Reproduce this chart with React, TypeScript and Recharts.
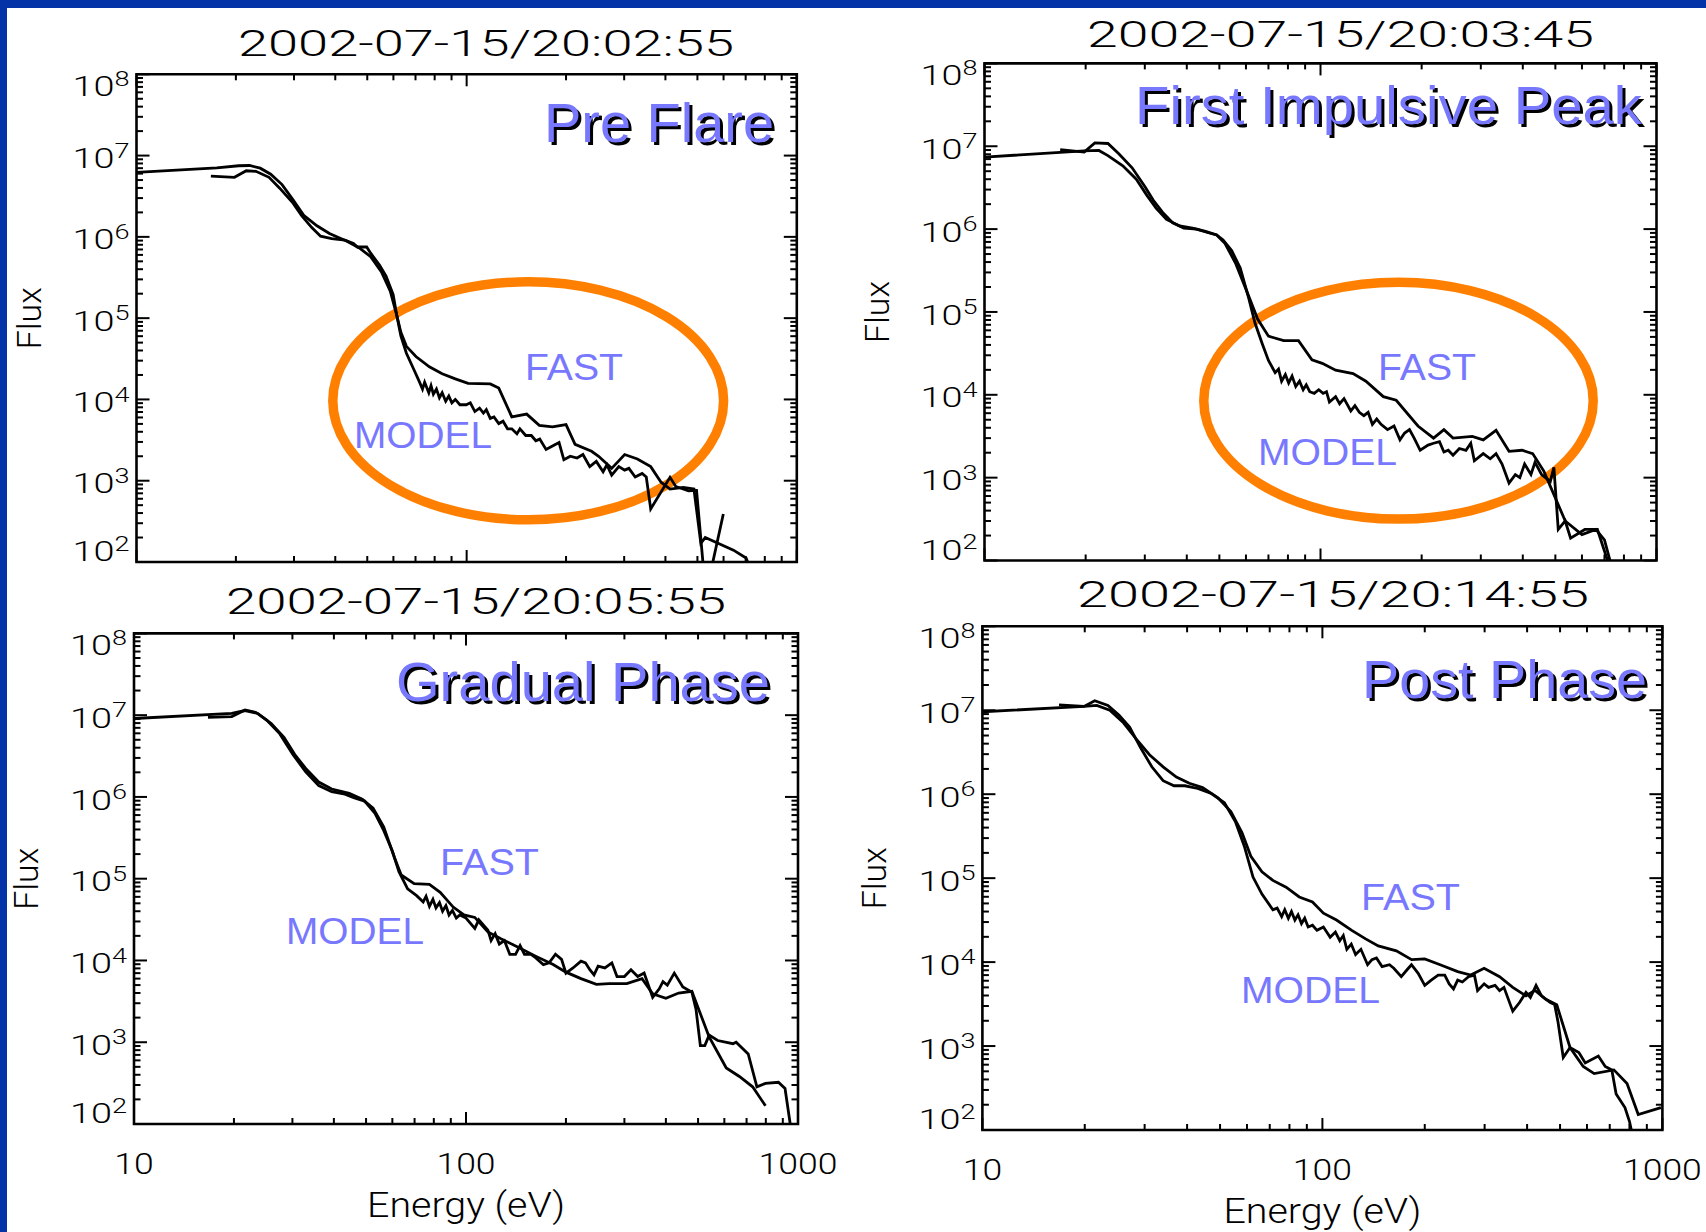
import React from 'react';
import { LineChart, Line, XAxis, YAxis, ReferenceArea } from 'recharts';

type Pt = [number, number];

// ---------------- data ----------------
const ENERGY_DOMAIN: [number, number] = [10, 1000];
const FLUX_DOMAIN: [number, number] = [1e2, 1e8];
const X_MAJOR_TICKS = [10, 100, 1000];
const X_TICK_LABELS = ['10', '100', '1000'];
const MINOR_FACTORS = [2, 3, 4, 5, 6, 7, 8, 9];
const Y_MAJOR_TICKS = [1e2, 1e3, 1e4, 1e5, 1e6, 1e7, 1e8];
const Y_EXPONENT_LABELS = ['2', '3', '4', '5', '6', '7', '8'];
const TITLES = ['2002-07-15/20:02:55', '2002-07-15/20:03:45', '2002-07-15/20:05:55', '2002-07-15/20:14:55'];
const PHASE_LABELS = ['Pre Flare', 'First Impulsive Peak', 'Gradual Phase', 'Post Phase'];
const SERIES_NAMES = ['FAST', 'MODEL'];
const X_TITLE = 'Energy (eV)';
const Y_TITLE = 'Flux';

// Panel 1 (Pre Flare) [energy eV, flux]
const P1_FAST: Pt[] = [
  [10, 6.2e6], [17.5, 7.05e6], [20.4, 7.5e6], [22.0, 7.55e6], [23.7, 7.0e6], [25.5, 5.9e6], [27.6, 4.4e6],
  [29.8, 2.85e6], [32.1, 1.84e6], [35.2, 1.37e6], [38.4, 1.1e6], [43.4, 8.85e5], [47.3, 7.3e5], [51.2, 5.7e5],
  [55.2, 3.7e5], [58.7, 2.15e5], [61.4, 1.09e5], [63.2, 6.7e4], [65.7, 4.5e4], [70.2, 3.37e4], [77.1, 2.52e4],
  [84.3, 2.07e4], [92.4, 1.79e4], [101, 1.58e4], [117.9, 1.55e4], [125.1, 1.38e4], [137, 6.1e3], [152, 6.6e3],
  [166, 4.8e3], [182, 4.6e3], [200, 4.9e3], [213, 2.8e3], [239, 2.3e3], [251, 2.0e3], [275, 1.42e3], [301, 2.1e3],
  [329, 1.85e3], [361, 1.49e3], [388, 960], [413, 790], [453, 830], [488, 790], [512, 170], [528, 200],
  [643, 140], [702, 112], [740, 65],
];
const P1_MODEL: Pt[] = [
  [16.8, 5.6e6], [19.8, 5.4e6], [21.5, 6.5e6], [23.0, 6.4e6], [25.2, 5.4e6], [27.1, 4.0e6], [29.8, 2.6e6],
  [31.6, 1.84e6], [33.9, 1.31e6], [36.1, 1.02e6], [39.0, 9.5e5], [42.8, 9.1e5], [45.4, 8.3e5], [46.7, 7.5e5],
  [49.8, 7.5e5], [51.2, 6.3e5], [54.5, 4.47e5], [57.0, 3.3e5], [59.9, 1.95e5], [61.4, 1.09e5], [63.2, 6.05e4],
  [65.7, 3.7e4], [69.3, 2.3e4], [72.0, 1.63e4], [73.5, 1.34e4], [74.6, 1.63e4], [76.8, 1.21e4], [78.0, 1.48e4],
  [79.3, 1.16e4], [81.0, 1.34e4], [82.7, 1.05e4], [84.3, 1.21e4], [86.4, 9.5e3], [88.3, 1.1e4], [90.2, 9.1e3],
  [92.4, 1.0e4], [95.4, 8.6e3], [99.7, 8.6e3], [102.6, 9.1e3], [105.9, 7.1e3], [109.4, 7.8e3], [112.4, 6.8e3],
  [114.7, 7.5e3], [117.9, 5.85e3], [121.0, 6.1e3], [125.1, 5.05e3], [128.9, 5.4e3], [133.0, 4.35e3],
  [137.0, 4.35e3], [142.0, 3.77e3], [145.0, 4.35e3], [151.0, 3.6e3], [157.0, 3.6e3], [162.0, 3.1e3],
  [166.5, 3.25e3], [174.0, 2.43e3], [182.0, 2.68e3], [190.5, 2.95e3], [197.0, 1.81e3], [206.0, 2.0e3],
  [216.0, 1.9e3], [225.0, 2.1e3], [236.0, 1.49e3], [247.0, 1.73e3], [259.0, 1.29e3], [266.0, 1.57e3],
  [275.0, 1.17e3], [289.0, 1.49e3], [301.0, 1.35e3], [310.0, 1.42e3], [324.0, 1.11e3], [340.0, 1.23e3],
  [350.0, 1.11e3], [361, 450], [413, 1.1e3], [430, 850], [470, 750], [497, 760], [530, 40], [599, 389],
];

// Panel 2 (First Impulsive Peak)
const P2_FAST: Pt[] = [
  [10, 7.4e6], [19.8, 8.8e6], [21.9, 8.9e6], [23.3, 7.7e6], [25.8, 5.8e6], [28.3, 4.0e6], [30.4, 2.57e6],
  [32.4, 1.79e6], [34.8, 1.31e6], [38.1, 1.09e6], [41.6, 1.03e6], [45.5, 9.4e5], [49.1, 8.5e5], [52.0, 6.7e5],
  [56.0, 3.8e5], [60.4, 1.76e5], [65.0, 8.2e4], [70.0, 5.1e4], [77.7, 4.5e4], [86.0, 4.5e4], [94.3, 2.64e4],
  [101.2, 2.4e4], [110.9, 1.98e4], [125, 1.8e4], [136.5, 1.46e4], [153.8, 9.5e3], [168, 8.6e3], [195, 4.2e3],
  [217, 3.0e3], [233, 3.8e3], [248, 3.0e3], [283, 3.14e3], [305, 2.86e3], [333, 3.73e3], [364, 2.08e3],
  [398, 2.14e3], [428, 1.95e3], [462, 1.2e3], [535, 300], [600, 205], [660, 237], [700, 177], [735, 85],
];
const P2_MODEL: Pt[] = [
  [16.8, 9.1e6], [19.8, 8.5e6], [21.3, 1.1e7], [23.3, 1.08e7], [25.1, 8.1e6], [27.5, 5.5e6], [30.0, 3.27e6],
  [31.8, 2.23e6], [33.9, 1.59e6], [36.3, 1.19e6], [39.2, 1.03e6], [42.8, 1.0e6], [46.1, 9.1e5], [49.1, 8.5e5],
  [51.3, 7.4e5], [54.4, 5.5e5], [57.7, 3.4e5], [61.2, 1.45e5], [63.8, 7.4e4], [67.0, 4.2e4], [70.0, 2.6e4],
  [73.3, 1.85e4], [75.0, 2.04e4], [76.6, 1.46e4], [78.6, 1.76e4], [80.4, 1.39e4], [82.3, 1.68e4], [84.4, 1.26e4],
  [86.6, 1.46e4], [88.8, 1.15e4], [90.7, 1.32e4], [92.9, 1.09e4], [95.8, 1.04e4], [98.8, 1.15e4], [101.8, 1.04e4],
  [104.2, 1.09e4], [106.3, 8.2e3], [110.9, 9.5e3], [114.0, 7.8e3], [117.5, 9.0e3], [123.1, 6.4e3], [126.6, 7.4e3],
  [130.5, 6.15e3], [134.6, 5.6e3], [138.6, 6.15e3], [142.7, 4.4e3], [147.0, 5.1e3], [151.4, 4.4e3], [158.3, 3.8e3],
  [165.5, 4.2e3], [172.4, 2.86e3], [178.0, 3.46e3], [184.0, 3.8e3], [190.0, 3.0e3], [198.0, 2.14e3], [209.0, 2.47e3],
  [217.0, 2.6e3], [226.0, 2.72e3], [233.0, 2.04e3], [240.0, 2.14e3], [248.0, 1.86e3], [259.0, 2.25e3],
  [271.0, 2.14e3], [280.0, 2.6e3], [287.0, 1.6e3], [305.0, 1.95e3], [320.0, 1.69e3], [333.0, 1.95e3],
  [347.0, 1.46e3], [364.0, 860], [380.0, 1.09e3], [392.0, 1.0e3], [405.0, 1.46e3], [423.0, 1.09e3],
  [435.0, 1.53e3], [455.0, 1.09e3], [483.0, 900], [495.0, 1.33e3], [510.0, 237], [535.0, 300], [555.0, 186],
  [612.0, 237], [667.0, 237], [718.0, 95], [740, 62],
];

// Panel 3 (Gradual Phase)
const P3_FAST: Pt[] = [
  [10, 9.1e6], [19.7, 1.05e7], [21.6, 1.14e7], [23.6, 1.05e7], [25.9, 7.9e6], [28.3, 5.35e6], [30.5, 3.3e6],
  [32.9, 2.23e6], [36.0, 1.52e6], [39.4, 1.25e6], [44.5, 1.11e6], [48.7, 9.35e5], [52.5, 7.3e5], [56.5, 4.3e5],
  [60.9, 1.8e5], [63.8, 1.11e5], [69.8, 8.7e4], [77.6, 8.5e4], [83.6, 6.8e4], [91.5, 4.5e4], [98.6, 3.6e4],
  [106.3, 3.36e4], [116.4, 2.23e4], [127.4, 1.84e4], [143.6, 1.45e4], [162, 1.13e4], [183, 8.9e3], [200, 7.2e3],
  [222, 6.0e3], [247, 5.1e3], [270, 5.2e3], [305, 5.2e3], [339, 6.0e3], [365, 3.9e3], [400, 3.45e3],
  [437, 4.0e3], [479, 4.2e3], [540, 1.16e3], [608, 485], [666, 381], [730, 285], [798, 167],
];
const P3_MODEL: Pt[] = [
  [16.7, 9.4e6], [19.7, 9.6e6], [21.6, 1.16e7], [23.3, 1.08e7], [25.1, 8.7e6], [27.5, 5.9e6], [30.1, 3.3e6],
  [32.9, 2.03e6], [36.0, 1.38e6], [39.4, 1.16e6], [43.2, 1.08e6], [45.9, 9.8e5], [49.5, 8.9e5], [53.2, 6.3e5],
  [56.5, 3.9e5], [60.0, 2.18e5], [62.8, 1.22e5], [66.7, 7.5e4], [71.0, 6.2e4], [74.3, 5.2e4], [75.8, 6.1e4],
  [77.6, 4.6e4], [79.5, 5.6e4], [81.2, 4.4e4], [83.2, 5.1e4], [85.0, 4.0e4], [87.0, 4.7e4], [88.9, 3.6e4],
  [91.0, 4.1e4], [93.5, 3.3e4], [95.8, 3.6e4], [100, 3.3e4], [106.3, 2.47e4], [109.3, 3.14e4], [116.4, 2.35e4],
  [119, 1.75e4], [122.4, 2.13e4], [126, 1.59e4], [130.5, 1.75e4], [135.5, 1.19e4], [141, 1.19e4], [145.5, 1.52e4],
  [150, 1.19e4], [157, 1.19e4], [162, 1.08e4], [171, 8.9e3], [178, 9.35e3], [186, 1.19e4], [194, 1.03e4],
  [200, 7.0e3], [210, 8.1e3], [222, 9.8e3], [229, 9.35e3], [236, 7.7e3], [243, 6.65e3], [250, 8.5e3],
  [262, 8.1e3], [275, 9.35e3], [285, 6.35e3], [300, 6.35e3], [314, 7.7e3], [329, 6.35e3], [344, 7.0e3],
  [365, 3.54e3], [382, 4.5e3], [392, 5.5e3], [404, 5.0e3], [424, 7.0e3], [450, 4.75e3], [479, 4.1e3],
  [493, 2.52e3], [508, 910], [524, 910], [540, 1.22e3], [573, 1.05e3], [637, 960], [651, 1.0e3], [708, 720],
  [752, 285], [798, 314], [873, 324], [914, 272], [950, 93], [960, 50],
];

// Panel 4 (Post Phase)
const P4_FAST: Pt[] = [
  [10, 9.6e6], [19.9, 1.11e7], [21.7, 1.14e7], [23.7, 1.0e7], [25.9, 7.2e6], [28.4, 4.5e6], [31.0, 2.95e6],
  [34.0, 2.12e6], [37.2, 1.6e6], [40.6, 1.35e6], [44.4, 1.2e6], [49.3, 9.05e5], [53.8, 6.2e5], [58.0, 3.5e5],
  [61.6, 1.82e5], [66.4, 1.19e5], [71.5, 9.4e4], [78.2, 7.8e4], [85.5, 5.97e4], [93.5, 5.2e4], [100.7, 3.83e4],
  [110, 3.17e4], [122, 2.39e4], [134, 1.89e4], [146, 1.56e4], [165, 1.36e4], [183, 1.07e4], [200, 1.09e4],
  [222, 9.3e3], [250, 7.7e3], [273, 7.0e3], [299, 8.45e3], [332, 6.7e3], [363, 5.0e3], [397, 3.97e3],
  [422, 4.6e3], [454, 3.6e3], [489, 3.1e3], [535, 960], [585, 570], [630, 470], [720, 520], [787, 357],
  [849, 153], [990, 185],
];
const P4_MODEL: Pt[] = [
  [16.8, 1.16e7], [19.9, 1.11e7], [21.4, 1.3e7], [23.4, 1.14e7], [25.2, 8.75e6], [27.1, 6.3e6], [29.2, 3.57e6],
  [31.5, 2.12e6], [34.0, 1.45e6], [36.6, 1.26e6], [39.4, 1.26e6], [43.0, 1.17e6], [47.1, 1.02e6], [51.5, 7.9e5],
  [55.5, 4.7e5], [58.9, 2.42e5], [62.5, 1.03e5], [66.4, 6.45e4], [71.5, 4.2e4], [73.6, 4.4e4], [75.9, 3.48e4],
  [77.5, 4.2e4], [79.4, 3.33e4], [81.1, 4.0e4], [83.0, 3.17e4], [84.8, 3.66e4], [86.8, 2.88e4], [88.7, 3.33e4],
  [90.8, 2.62e4], [93.5, 2.75e4], [96.4, 2.39e4], [100.7, 2.62e4], [105.4, 1.98e4], [109.2, 2.28e4],
  [112.5, 1.8e4], [115.2, 2.07e4], [118, 1.42e4], [121.6, 1.64e4], [125.2, 1.23e4], [129.8, 1.42e4],
  [135.8, 9.3e3], [139.9, 1.07e4], [144.2, 1.12e4], [149.8, 8.85e3], [157.5, 9.3e3], [162.2, 8.45e3],
  [170.6, 6.7e3], [177.4, 8.1e3], [182.8, 9.3e3], [191.3, 7.35e3], [200, 5.27e3], [209, 6.1e3], [219, 7.0e3],
  [229, 7.0e3], [236, 5.5e3], [243, 4.8e3], [250, 6.1e3], [258, 5.8e3], [269, 6.7e3], [280, 7.0e3],
  [286, 4.57e3], [299, 5.5e3], [308, 5.0e3], [322, 5.27e3], [332, 4.57e3], [342, 5.0e3], [363, 2.6e3],
  [380, 3.3e3], [397, 4.37e3], [409, 3.79e3], [425, 5.27e3], [441, 3.97e3], [468, 3.3e3], [482, 3.13e3],
  [493, 1.95e3], [511, 730], [535, 960], [568, 835], [593, 630], [648, 760], [679, 570], [710, 520],
  [731, 269], [776, 185], [800, 127], [812, 96], [820, 60],
];

// ---------------- layout & style ----------------
const PAGE_W = 1706;
const PAGE_H = 1232;
const FONT = "'Liberation Sans', Arial, Helvetica, sans-serif";
const AXIS_FONT = "Roboto, 'Liberation Sans', Arial, sans-serif";
const AXIS_WEIGHT = 300;
const BORDER_BLUE = '#0433a8';
const LABEL_BLUE = '#7878ff';
const ORANGE = '#ff8000';
const LINE_W = 2.8;

const buildTicks = (majors: number[]) => {
  const out: number[] = [...majors];
  majors.slice(0, -1).forEach((d) => MINOR_FACTORS.forEach((f) => out.push(d * f)));
  return out.sort((a, b) => a - b);
};
const X_TICKS = buildTicks(X_MAJOR_TICKS);
const Y_TICKS = buildTicks(Y_MAJOR_TICKS);

const toRows = (pts: Pt[]) => pts.map(([e, f]) => ({ e, f }));

const PANELS = [
  {
    left: 0, top: 0, width: 853, height: 580,
    box: { l: 136.5, t: 74.3, r: 796.8, b: 562 }, xLabels: false,
    fast: P1_FAST, model: P1_MODEL, title: TITLES[0], phase: PHASE_LABELS[0],
    titleBox: { x: 238, w: 496, base: 55.5 },
    phaseBox: { x: 544, w: 230, base: 141.6, size: 56 },
    fastBox: { x: 525, w: 98, base: 380 }, modelBox: { x: 354, w: 138, base: 448 },
    ellipse: { cx: 528.2, cy: 400.8, rx: 195.4, ry: 119 },
  },
  {
    left: 853, top: 0, width: 853, height: 580,
    box: { l: 984.5, t: 63.4, r: 1656.5, b: 560.5 }, xLabels: false,
    fast: P2_FAST, model: P2_MODEL, title: TITLES[1], phase: PHASE_LABELS[1],
    titleBox: { x: 1087, w: 507, base: 46.7 },
    phaseBox: { x: 1135, w: 507, base: 124, size: 53 },
    fastBox: { x: 1378, w: 98, base: 380 }, modelBox: { x: 1258, w: 139, base: 465 },
    ellipse: { cx: 1398.5, cy: 400.7, rx: 194.7, ry: 118.4 },
  },
  {
    left: 0, top: 580, width: 853, height: 652,
    box: { l: 134, t: 633.4, r: 798, b: 1124 }, xLabels: true,
    fast: P3_FAST, model: P3_MODEL, title: TITLES[2], phase: PHASE_LABELS[2],
    titleBox: { x: 226, w: 500, base: 614 },
    phaseBox: { x: 396, w: 374, base: 700.6, size: 55 },
    fastBox: { x: 440, w: 99, base: 875 }, modelBox: { x: 286, w: 138, base: 944 },
    ellipse: null,
  },
  {
    left: 853, top: 580, width: 853, height: 652,
    box: { l: 982.4, t: 626.3, r: 1662.4, b: 1130 }, xLabels: true,
    fast: P4_FAST, model: P4_MODEL, title: TITLES[3], phase: PHASE_LABELS[3],
    titleBox: { x: 1077, w: 512, base: 607 },
    phaseBox: { x: 1362, w: 285, base: 697.7, size: 54 },
    fastBox: { x: 1361, w: 99, base: 910 }, modelBox: { x: 1241, w: 139, base: 1003 },
    ellipse: null,
  },
];

const Y_AXIS_W = 80;

const XTick = (props: any) => {
  const { x, y, payload, plotH, showLabels } = props;
  const v = payload.value;
  const idx = X_MAJOR_TICKS.indexOf(v);
  const major = idx >= 0;
  const len = major ? 12 : 6;
  const label = X_TICK_LABELS[idx];
  const lw = label ? label.length * 19.7 : 0;
  return (
    <g>
      <line x1={x} y1={y} x2={x} y2={y - len} stroke="#000" strokeWidth={2} />
      <line x1={x} y1={y - plotH} x2={x} y2={y - plotH + len} stroke="#000" strokeWidth={2} />
      {major && showLabels ? (
        <text x={x - lw / 2} y={y + 50} fontFamily={AXIS_FONT} fontWeight={AXIS_WEIGHT} fontSize={29} fill="#000"
          textLength={lw} lengthAdjust="spacingAndGlyphs">{label}</text>
      ) : null}
    </g>
  );
};

const YTick = (props: any) => {
  const { x, y, payload, plotW } = props;
  const v = payload.value;
  const idx = Y_MAJOR_TICKS.indexOf(v);
  const major = idx >= 0;
  const len = major ? 13 : 6.5;
  let base = y + 12.6;
  if (idx === Y_MAJOR_TICKS.length - 1) base = y + 22;
  if (idx === 0) base = y - 1;
  return (
    <g>
      <line x1={x} y1={y} x2={x + len} y2={y} stroke="#000" strokeWidth={2} />
      <line x1={x + plotW} y1={y} x2={x + plotW - len} y2={y} stroke="#000" strokeWidth={2} />
      {major ? (
        <text x={x - 64} y={base} fontFamily={AXIS_FONT} fontWeight={AXIS_WEIGHT} fontSize={28} fill="#000"
          textLength={57} lengthAdjust="spacingAndGlyphs">
          10<tspan dy={-10.5} fontSize={20}>{Y_EXPONENT_LABELS[idx]}</tspan>
        </text>
      ) : null}
    </g>
  );
};

function Panel({ cfg }: { cfg: typeof PANELS[number] }) {
  const { left, top, width, height, box } = cfg;
  const plotW = box.r - box.l;
  const plotH = box.b - box.t;
  const xAxisH = cfg.xLabels ? 100 : 6;
  const margin = {
    left: box.l - left - Y_AXIS_W,
    top: box.t - top,
    right: left + width - box.r,
    bottom: top + height - box.b - xAxisH,
  };
  const plotLeft = box.l - left;
  const plotTop = box.t - top;
  const fluxLabel = () => {
    const cx = plotLeft - 108;
    const cy = plotTop + plotH / 2;
    return (
      <g transform={`translate(${cx},${cy}) rotate(-90)`}>
        <text x={-31} y={12} fontFamily={AXIS_FONT} fontWeight={AXIS_WEIGHT} fontSize={33} fill="#000"
          textLength={62} lengthAdjust="spacingAndGlyphs">{Y_TITLE}</text>
      </g>
    );
  };
  const energyLabel = () => {
    if (!cfg.xLabels) return null;
    const cx = plotLeft + plotW / 2;
    return (
      <text x={cx - 99} y={plotTop + plotH + 93} fontFamily={AXIS_FONT} fontWeight={AXIS_WEIGHT} fontSize={35} fill="#000"
        textLength={198} lengthAdjust="spacingAndGlyphs">{X_TITLE}</text>
    );
  };
  return (
    <div style={{ position: 'absolute', left, top, width, height }}>
      <LineChart width={width} height={height} margin={margin}>
        <XAxis dataKey="e" type="number" scale="log" domain={ENERGY_DOMAIN} allowDataOverflow
          ticks={X_TICKS} interval={0} tickSize={0} tickMargin={0} axisLine={false} tickLine={false}
          height={xAxisH}
          tick={(p: any) => <XTick {...p} plotH={plotH} showLabels={cfg.xLabels} />}
          label={energyLabel} />
        <YAxis dataKey="f" type="number" scale="log" domain={FLUX_DOMAIN} allowDataOverflow
          ticks={Y_TICKS} interval={0} tickSize={0} tickMargin={0} axisLine={false} tickLine={false}
          width={Y_AXIS_W}
          tick={(p: any) => <YTick {...p} plotW={plotW} />}
          label={fluxLabel} />
        <ReferenceArea x1={ENERGY_DOMAIN[0]} x2={ENERGY_DOMAIN[1]} y1={FLUX_DOMAIN[0]} y2={FLUX_DOMAIN[1]}
          fill="none" fillOpacity={0} stroke="#000" strokeWidth={2.6} strokeOpacity={1} />
        <Line data={toRows(cfg.fast)} dataKey="f" name={SERIES_NAMES[0]} type="linear" stroke="#000"
          strokeWidth={LINE_W} dot={false} activeDot={false} isAnimationActive={false} />
        <Line data={toRows(cfg.model)} dataKey="f" name={SERIES_NAMES[1]} type="linear" stroke="#000"
          strokeWidth={LINE_W} dot={false} activeDot={false} isAnimationActive={false} />
      </LineChart>
    </div>
  );
}

export default function App() {
  return (
    <div style={{ position: 'absolute', left: 0, top: 0, width: PAGE_W, height: PAGE_H, background: '#fff', overflow: 'hidden' }}>
      <div style={{ position: 'absolute', left: 0, top: 0, width: PAGE_W, height: 8, background: BORDER_BLUE }} />
      <div style={{ position: 'absolute', left: 0, top: 0, width: 7, height: PAGE_H, background: BORDER_BLUE }} />
      {/* highlight ellipses beneath the curves */}
      <svg width={PAGE_W} height={PAGE_H} style={{ position: 'absolute', left: 0, top: 0 }}>
        {PANELS.map((p, i) => p.ellipse ? (
          <ellipse key={i} cx={p.ellipse.cx} cy={p.ellipse.cy} rx={p.ellipse.rx} ry={p.ellipse.ry}
            fill="none" stroke={ORANGE} strokeWidth={9.5} />
        ) : null)}
      </svg>
      {PANELS.map((p, i) => <Panel key={i} cfg={p} />)}
      <svg width={PAGE_W} height={PAGE_H} style={{ position: 'absolute', left: 0, top: 0, pointerEvents: 'none' }}>
        {PANELS.map((p, i) => (
          <g key={i}>
            <text x={p.titleBox.x} y={p.titleBox.base} fontFamily={AXIS_FONT} fontWeight={AXIS_WEIGHT} fontSize={37} fill="#000"
              textLength={p.titleBox.w} lengthAdjust="spacingAndGlyphs">{p.title}</text>
            <text x={p.phaseBox.x + 3} y={p.phaseBox.base + 3} fontFamily={FONT} fontSize={p.phaseBox.size}
              fill="#000" textLength={p.phaseBox.w} lengthAdjust="spacingAndGlyphs">{p.phase}</text>
            <text x={p.phaseBox.x} y={p.phaseBox.base} fontFamily={FONT} fontSize={p.phaseBox.size}
              fill={LABEL_BLUE} textLength={p.phaseBox.w} lengthAdjust="spacingAndGlyphs">{p.phase}</text>
            <text x={p.fastBox.x} y={p.fastBox.base} fontFamily={FONT} fontSize={36} fill={LABEL_BLUE}
              textLength={p.fastBox.w} lengthAdjust="spacingAndGlyphs">{SERIES_NAMES[0]}</text>
            <text x={p.modelBox.x} y={p.modelBox.base} fontFamily={FONT} fontSize={36} fill={LABEL_BLUE}
              textLength={p.modelBox.w} lengthAdjust="spacingAndGlyphs">{SERIES_NAMES[1]}</text>
          </g>
        ))}
      </svg>
    </div>
  );
}
